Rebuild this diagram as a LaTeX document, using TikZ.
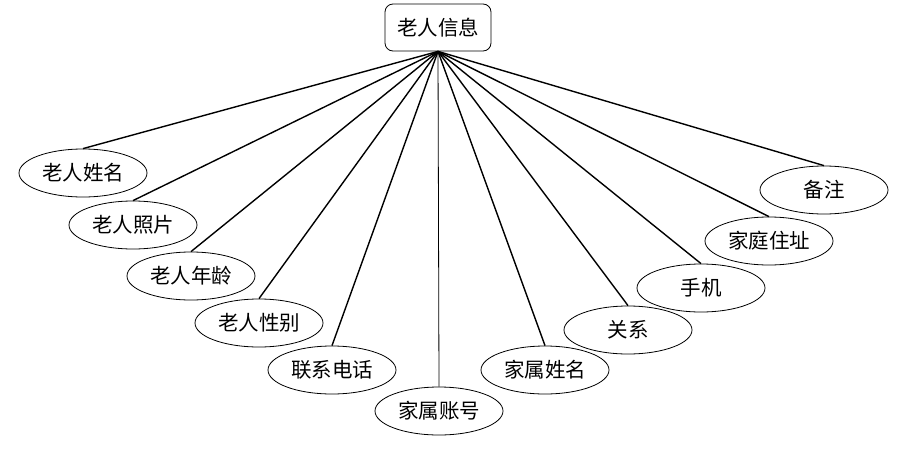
\documentclass[tikz,border=0pt]{standalone}
\usepackage{fontspec}
\newfontfamily\cjk{Noto Sans CJK SC}
\usetikzlibrary{shapes.geometric}
\begin{document}
\begin{tikzpicture}[x=1pt,y=-1pt,
  attr/.style={draw,ellipse,line width=0.8pt,minimum width=128pt,minimum height=48pt,inner sep=0pt,font=\cjk\fontsize{20.5}{21}\selectfont},
  ent/.style={draw,rounded corners=8pt,line width=0.8pt,minimum width=106pt,minimum height=47pt,inner sep=0pt,font=\cjk\fontsize{20.5}{21}\selectfont},
  conn/.style={line width=1.4pt}]
\useasboundingbox (0,0) rectangle (902,458);
\node[ent] (top) at (438,27.5) {老人信息};
\node[attr] (a1) at (83,173) {老人姓名};
\node[attr] (a2) at (133,225) {老人照片};
\node[attr] (a3) at (191,276) {老人年龄};
\node[attr] (a4) at (259,323) {老人性别};
\node[attr] (a5) at (332,370) {联系电话};
\node[attr] (a6) at (439,411) {家属账号};
\node[attr] (a7) at (545,370) {家属姓名};
\node[attr] (a8) at (628,330) {关系};
\node[attr] (a9) at (701,288) {手机};
\node[attr] (a10) at (769,241) {家庭住址};
\node[attr] (a11) at (824,190) {备注};
\foreach \n in {a1,a2,a3,a4,a5,a7,a8,a9,a10,a11}
  \draw[conn] (top.south) -- (\n.north);
\draw[line width=0.8pt] (top.south) -- (a6.north);
\end{tikzpicture}
\end{document}
